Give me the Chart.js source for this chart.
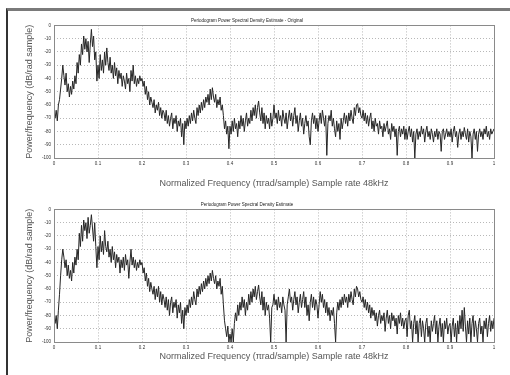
<!DOCTYPE html>
<html>
<head>
<meta charset="utf-8">
<script src="https://cdn.jsdelivr.net/npm/chart.js"></script>
<style>
  body { margin: 0; background: #fff; width: 510px; height: 375px; overflow: hidden; position: relative; }
  .frame { position: absolute; left: 6px; top: 8px; right: 0; bottom: 0; border-top: 3px solid #7a7a7a; border-left: 2px solid #333; }
  canvas { position: absolute; left: 0; }
</style>
</head>
<body>
<div class="frame"></div>
<canvas id="top" width="510" height="190" style="top:0"></canvas>
<canvas id="bottom" width="510" height="190" style="top:184px"></canvas>
<script>
// frequency spacing of the estimate (normalized, x pi rad/sample)
const freqStep = 0.0025;

// PSD of the original signal, dB/rad/sample
const psdOriginal = [
  -66,-70,-64,-72,-60,-56,-48,-40,-30,-38,-45,-36,-50,-44,-54,-46,-52,-42,-48,-38,
  -44,-28,-36,-22,-30,-14,-22,-8,-18,-10,-20,-12,-28,-14,-3,-16,-8,-26,-20,-42,
  -30,-40,-22,-34,-26,-36,-20,-30,-17,-28,-34,-24,-36,-30,-40,-28,-38,-32,-44,-34,
  -40,-36,-46,-38,-42,-48,-36,-44,-40,-50,-34,-42,-30,-44,-38,-46,-40,-44,-38,-42,
  -40,-46,-42,-52,-46,-56,-50,-60,-54,-58,-62,-56,-66,-60,-64,-58,-68,-62,-70,-64,
  -66,-72,-64,-74,-68,-76,-70,-66,-78,-70,-74,-68,-80,-72,-76,-70,-84,-74,-90,-72,
  -78,-70,-76,-68,-74,-66,-72,-64,-70,-74,-62,-68,-60,-66,-58,-64,-56,-62,-54,-58,
  -52,-60,-48,-56,-47,-54,-58,-52,-62,-56,-60,-54,-64,-60,-68,-78,-72,-82,-76,-93,
  -76,-82,-72,-80,-70,-78,-74,-84,-72,-78,-68,-76,-70,-80,-72,-66,-76,-70,-74,-64,
  -72,-62,-68,-60,-70,-62,-57,-66,-72,-62,-74,-66,-78,-68,-74,-70,-78,-66,-76,-70,
  -60,-70,-66,-74,-64,-72,-68,-76,-64,-70,-74,-66,-78,-70,-64,-72,-66,-76,-68,-62,
  -74,-68,-80,-72,-66,-76,-70,-82,-74,-68,-76,-72,-84,-90,-72,-66,-74,-68,-78,-70,
  -80,-72,-66,-74,-64,-70,-76,-68,-98,-74,-68,-72,-64,-76,-70,-78,-84,-72,-80,-74,
  -86,-70,-78,-72,-66,-74,-68,-76,-66,-72,-64,-70,-74,-62,-68,-60,-59,-66,-62,-68,
  -70,-64,-72,-66,-74,-68,-76,-70,-66,-78,-72,-80,-70,-76,-74,-82,-72,-78,-76,-84,
  -74,-80,-76,-72,-82,-78,-86,-74,-80,-76,-84,-78,-98,-80,-76,-84,-78,-82,-76,-86,
  -78,-86,-80,-76,-84,-78,-88,-80,-100,-82,-78,-86,-80,-84,-76,-82,-78,-88,-80,-76,
  -84,-80,-86,-78,-82,-88,-80,-84,-78,-86,-80,-82,-95,-80,-78,-86,-82,-78,-84,-80,
  -84,-78,-88,-80,-76,-84,-80,-92,-82,-78,-86,-80,-84,-77,-82,-86,-78,-88,-80,-84,
  -100,-82,-78,-86,-80,-95,-82,-78,-84,-80,-86,-78,-82,-76,-84,-80,-86,-78,-82,-80,
  -78
];

// PSD of the processed signal, dB/rad/sample
const psdEstimate = [
  -78,-86,-80,-90,-76,-64,-50,-38,-30,-36,-44,-38,-50,-42,-52,-46,-54,-40,-48,-36,
  -42,-30,-38,-18,-28,-12,-24,-8,-16,-10,-22,-6,-18,-12,-4,-14,-24,-10,-28,-44,
  -28,-38,-20,-32,-24,-34,-16,-28,-32,-24,-36,-30,-40,-28,-38,-32,-44,-34,-40,-36,
  -48,-38,-44,-36,-46,-34,-42,-38,-52,-40,-30,-42,-36,-44,-38,-46,-40,-44,-38,-42,
  -40,-48,-44,-54,-48,-58,-52,-62,-55,-60,-64,-58,-68,-60,-66,-58,-70,-62,-72,-64,
  -68,-74,-66,-76,-68,-80,-70,-66,-78,-70,-74,-68,-82,-72,-78,-70,-86,-76,-90,-74,
  -80,-72,-78,-68,-74,-66,-72,-62,-68,-72,-60,-66,-58,-64,-56,-62,-54,-60,-52,-58,
  -50,-56,-48,-54,-46,-52,-56,-50,-60,-54,-58,-52,-64,-58,-72,-84,-90,-96,-88,-100,
  -94,-100,-90,-100,-86,-78,-84,-72,-80,-70,-76,-66,-74,-68,-80,-70,-76,-64,-72,-62,
  -70,-60,-66,-58,-68,-62,-57,-66,-72,-62,-76,-66,-80,-70,-76,-72,-82,-100,-74,-72,
  -64,-72,-68,-76,-66,-74,-70,-78,-66,-72,-76,-100,-72,-66,-60,-70,-66,-76,-68,-62,
  -72,-66,-78,-70,-64,-74,-68,-62,-74,-66,-80,-72,-84,-70,-64,-74,-66,-76,-68,-72,
  -82,-72,-62,-70,-64,-74,-68,-78,-70,-80,-74,-84,-76,-80,-74,-86,-100,-78,-70,-76,
  -68,-74,-66,-72,-64,-70,-66,-74,-64,-70,-62,-68,-72,-60,-66,-58,-60,-66,-62,-68,
  -70,-66,-74,-68,-76,-70,-78,-72,-82,-74,-80,-76,-84,-78,-88,-80,-76,-86,-80,-84,
  -78,-92,-82,-76,-86,-80,-90,-78,-84,-80,-88,-82,-94,-80,-86,-78,-88,-82,-90,-84,
  -82,-96,-80,-76,-90,-84,-100,-86,-80,-94,-84,-100,-86,-82,-96,-84,-90,-100,-86,-82,
  -96,-88,-100,-84,-92,-86,-80,-94,-84,-100,-88,-82,-96,-86,-100,-84,-90,-82,-94,-88,
  -86,-100,-88,-82,-96,-86,-100,-84,-94,-80,-90,-76,-92,-74,-88,-100,-84,-94,-82,-100,
  -86,-80,-96,-84,-90,-100,-86,-82,-94,-88,-100,-84,-90,-82,-96,-86,-80,-92,-84,-90,
  -82
];

const titles = [
  'Periodogram Power Spectral Density Estimate - Original',
  'Periodogram Power Spectral Density Estimate'
];
const xTitle = 'Normalized Frequency (\u03c0rad/sample) Sample rate 48kHz';
const yTitle = 'Power/frequency (dB/rad sample)';

// matlab-like box round the plot area
const boxPlugin = {
  id: 'box',
  afterDraw(chart) {
    const a = chart.chartArea, ctx = chart.ctx;
    ctx.save();
    ctx.strokeStyle = '#8a8a8a';
    ctx.lineWidth = 1;
    ctx.strokeRect(Math.round(a.left) + 0.5, Math.round(a.top) + 0.5,
      Math.round(a.right - a.left), Math.round(a.bottom - a.top));
    ctx.restore();
  }
};

function makePlot(id, psd, title, xTitlePad) {
  const tickFont = { family: 'Liberation Sans', size: 4.5 };
  const titleFont = { family: 'Liberation Sans', size: 9 };
  new Chart(document.getElementById(id), {
    type: 'line',
    data: {
      datasets: [{
        data: psd.map((v, i) => ({ x: i * freqStep, y: v })),
        borderColor: '#262626',
        borderWidth: 1,
        pointRadius: 0,
        tension: 0
      }]
    },
    options: {
      responsive: false,
      animation: false,
      layout: { padding: { left: 0, right: 16, top: 0, bottom: 0 } },
      plugins: {
        legend: { display: false },
        tooltip: { enabled: false },
        title: {
          display: true,
          text: title,
          color: '#222',
          font: { family: 'Liberation Sans', size: 4.5, weight: 'normal' },
          padding: { top: 18, bottom: 2 }
        }
      },
      scales: {
        x: {
          type: 'linear',
          min: 0, max: 1,
          afterFit: s => { s.height = 32; },
          grid: { color: '#b8b8b8', drawTicks: false },
          border: { display: false, dash: [1, 2] },
          ticks: {
            stepSize: 0.1, padding: 3, color: '#333', font: tickFont, maxRotation: 0,
            callback: v => String(+v.toFixed(1))
          },
          title: { display: true, text: xTitle, color: '#555', font: titleFont, padding: { top: 0, bottom: xTitlePad } }
        },
        y: {
          min: -100, max: 0,
          afterFit: s => { s.width = 54; },
          grid: { color: '#b8b8b8', drawTicks: false },
          border: { display: false, dash: [1, 2] },
          ticks: { stepSize: 10, padding: 3, color: '#333', font: tickFont },
          title: { display: true, text: yTitle, color: '#555', font: titleFont, padding: { top: 24, bottom: 0 } }
        }
      }
    },
    plugins: [boxPlugin]
  });
}

makePlot('top', psdOriginal, titles[0], 1);
makePlot('bottom', psdEstimate, titles[1], 12);
</script>
</body>
</html>
